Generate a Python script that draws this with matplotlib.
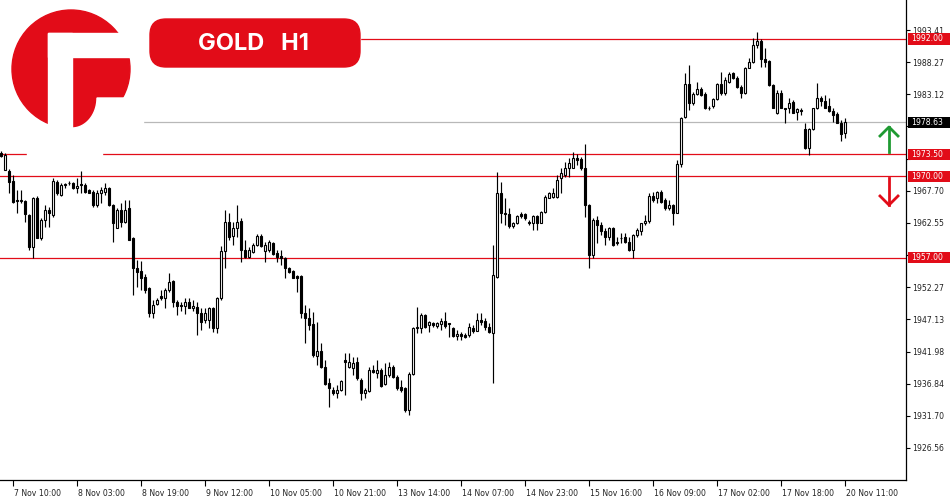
import matplotlib
matplotlib.use("Agg")
import matplotlib.pyplot as plt
import numpy as np
from matplotlib.patches import Rectangle, Circle, FancyBboxPatch, Polygon
from matplotlib.transforms import ScaledTranslation, blended_transform_factory

# hourly GOLD candles, 7 Nov 07:00 .. 20 Nov 11:00
opens = [
    1973.8, 1971.1, 1970.9, 1969.3, 1966.2, 1966.1, 1966.1, 1963.8, 1958.7, 1966.6,
    1960.2, 1963.1, 1964.6, 1963.8, 1969.1, 1967.0, 1968.7, 1968.9, 1968.9, 1968.1,
    1968.8, 1968.6, 1967.8, 1967.5, 1965.4, 1967.3, 1967.5, 1968.1, 1965.4, 1961.8,
    1964.6, 1962.7, 1964.9, 1960.1, 1955.3, 1954.8, 1953.9, 1952.1, 1948.1, 1949.6,
    1950.8, 1950.6, 1951.9, 1953.2, 1949.9, 1949.4, 1949.2, 1949.9, 1949.0, 1949.1,
    1948.2, 1947.1, 1947.1, 1948.9, 1945.8, 1950.6, 1958.1, 1962.7, 1960.4, 1961.7,
    1962.9, 1958.3, 1957.1, 1957.9, 1959.0, 1960.4, 1958.1, 1958.2, 1959.4, 1957.7,
    1957.2, 1956.9, 1955.3, 1954.9, 1954.0, 1954.0, 1948.1, 1947.3, 1946.4, 1941.2,
    1942.0, 1939.5, 1937.0, 1935.9, 1935.4, 1935.8, 1940.7, 1939.5, 1939.4, 1940.3,
    1937.5, 1935.4, 1935.7, 1939.1, 1938.6, 1939.0, 1936.8, 1938.2, 1939.5, 1937.9,
    1936.3, 1936.1, 1932.6, 1938.4, 1945.8, 1945.7, 1947.8, 1946.2, 1946.6, 1946.0,
    1946.4, 1946.8, 1946.5, 1945.7, 1944.4, 1944.8, 1944.6, 1944.6, 1945.8, 1945.3,
    1947.1, 1946.8, 1945.9, 1945.0, 1953.9, 1967.3, 1964.1, 1964.0, 1962.0, 1962.6,
    1964.0, 1964.0, 1962.7, 1962.5, 1963.6, 1962.6, 1964.3, 1966.6, 1966.7, 1966.7,
    1969.7, 1970.2, 1971.3, 1971.4, 1973.0, 1972.7, 1971.3, 1965.4, 1957.4, 1963.1,
    1962.2, 1961.3, 1960.3, 1961.7, 1959.4, 1960.1, 1960.3, 1959.5, 1958.2, 1960.6,
    1961.3, 1962.5, 1962.9, 1966.8, 1966.5, 1967.5, 1966.2, 1964.9, 1965.4, 1964.2,
    1972.0, 1979.5, 1984.8, 1981.7, 1983.2, 1983.9, 1983.2, 1980.9, 1981.2, 1982.3,
    1984.8, 1983.3, 1985.1, 1986.5, 1985.8, 1984.3, 1983.4, 1987.4, 1988.3, 1991.0,
    1991.7, 1988.7, 1988.5, 1984.6, 1980.1, 1983.4, 1980.9, 1981.0, 1981.9, 1980.3,
    1980.6, 1977.5, 1974.5, 1977.5, 1980.9, 1982.6, 1982.1, 1981.2, 1980.5, 1980.0,
    1978.5, 1976.9,
]
highs = [
    1974.0, 1973.8, 1971.2, 1970.2, 1967.8, 1967.8, 1966.2, 1964.0, 1966.7, 1966.8,
    1963.3, 1965.4, 1965.1, 1969.7, 1969.5, 1968.9, 1969.0, 1969.2, 1969.1, 1969.8,
    1970.8, 1968.9, 1968.0, 1967.8, 1967.8, 1968.3, 1968.9, 1968.3, 1965.6, 1964.9,
    1965.7, 1966.2, 1966.3, 1960.3, 1956.6, 1956.5, 1954.4, 1952.3, 1950.2, 1950.5,
    1951.8, 1952.1, 1954.5, 1953.4, 1950.3, 1949.9, 1950.5, 1950.5, 1950.2, 1949.9,
    1948.9, 1948.9, 1949.1, 1949.1, 1950.7, 1958.9, 1964.7, 1964.1, 1962.7, 1965.4,
    1963.3, 1959.9, 1958.7, 1959.3, 1960.8, 1960.8, 1959.5, 1959.8, 1959.5, 1958.2,
    1958.2, 1957.1, 1955.5, 1955.0, 1954.2, 1954.2, 1949.4, 1948.9, 1948.3, 1946.7,
    1943.3, 1940.6, 1937.7, 1936.3, 1936.6, 1937.4, 1941.8, 1941.8, 1941.1, 1941.1,
    1937.7, 1936.1, 1939.5, 1939.8, 1940.6, 1939.3, 1940.1, 1940.3, 1939.8, 1938.2,
    1937.4, 1936.3, 1938.7, 1945.9, 1949.1, 1948.1, 1948.0, 1946.8, 1946.7, 1946.7,
    1947.3, 1948.3, 1946.6, 1945.9, 1945.4, 1945.1, 1944.9, 1946.5, 1946.2, 1948.1,
    1948.1, 1947.3, 1946.5, 1959.0, 1970.7, 1969.1, 1966.6, 1964.9, 1962.7, 1963.8,
    1964.3, 1964.1, 1963.0, 1963.8, 1963.8, 1964.4, 1967.0, 1967.5, 1968.1, 1970.2,
    1971.3, 1972.3, 1972.9, 1973.9, 1973.6, 1973.1, 1975.2, 1965.6, 1963.3, 1963.6,
    1962.7, 1961.7, 1961.9, 1961.9, 1960.3, 1960.9, 1960.9, 1960.3, 1960.8, 1961.7,
    1962.6, 1963.8, 1967.3, 1967.5, 1967.7, 1967.8, 1966.5, 1966.2, 1965.6, 1972.6,
    1979.5, 1986.5, 1987.8, 1983.5, 1985.1, 1984.3, 1983.5, 1981.2, 1982.6, 1984.9,
    1986.7, 1985.9, 1986.7, 1986.7, 1986.0, 1984.6, 1987.5, 1988.9, 1992.1, 1993.1,
    1992.0, 1990.5, 1988.6, 1984.8, 1983.8, 1983.8, 1981.0, 1982.5, 1982.2, 1980.9,
    1980.9, 1978.5, 1977.7, 1981.0, 1985.0, 1982.8, 1983.0, 1982.5, 1980.9, 1980.3,
    1979.0, 1979.3,
]
lows = [
    1973.1, 1971.0, 1967.3, 1965.7, 1964.2, 1965.7, 1962.7, 1958.2, 1956.9, 1960.1,
    1959.8, 1961.9, 1961.9, 1963.5, 1967.0, 1966.8, 1968.2, 1968.6, 1968.0, 1967.3,
    1967.3, 1967.4, 1967.3, 1965.1, 1965.1, 1965.7, 1967.0, 1965.3, 1959.5, 1961.7,
    1961.9, 1962.6, 1959.8, 1951.0, 1952.3, 1951.8, 1951.3, 1947.5, 1947.4, 1949.4,
    1950.2, 1948.9, 1951.5, 1949.1, 1947.8, 1948.5, 1948.0, 1948.9, 1948.5, 1944.6,
    1945.4, 1946.5, 1945.7, 1945.1, 1944.9, 1950.2, 1955.4, 1959.8, 1959.0, 1960.3,
    1956.3, 1956.9, 1957.0, 1957.7, 1958.8, 1958.7, 1956.3, 1957.9, 1957.4, 1956.3,
    1955.8, 1953.7, 1954.5, 1953.7, 1951.5, 1947.3, 1943.3, 1945.4, 1941.1, 1939.8,
    1939.4, 1936.6, 1933.1, 1935.0, 1934.6, 1935.7, 1935.0, 1939.3, 1938.2, 1937.5,
    1934.2, 1934.5, 1935.5, 1938.5, 1937.7, 1936.3, 1936.6, 1937.9, 1937.7, 1935.8,
    1935.5, 1932.3, 1931.8, 1938.2, 1944.9, 1944.9, 1945.7, 1945.1, 1945.9, 1945.7,
    1945.4, 1945.7, 1944.3, 1944.3, 1943.8, 1943.8, 1944.2, 1944.3, 1944.9, 1945.2,
    1946.2, 1945.4, 1944.9, 1936.9, 1953.7, 1962.5, 1962.2, 1961.7, 1961.7, 1962.4,
    1963.4, 1963.0, 1962.2, 1961.4, 1961.4, 1962.5, 1964.2, 1966.5, 1966.6, 1966.6,
    1967.3, 1969.9, 1969.9, 1971.3, 1971.8, 1971.0, 1963.5, 1955.3, 1956.9, 1959.3,
    1960.6, 1959.0, 1959.8, 1958.8, 1959.0, 1959.3, 1959.3, 1958.1, 1956.9, 1960.3,
    1960.6, 1962.2, 1962.6, 1965.9, 1965.7, 1965.7, 1964.6, 1964.6, 1962.2, 1964.1,
    1971.5, 1979.3, 1980.6, 1981.4, 1983.0, 1982.8, 1980.7, 1980.6, 1981.0, 1982.2,
    1983.0, 1983.0, 1984.9, 1985.5, 1984.2, 1982.6, 1983.2, 1987.3, 1988.1, 1990.5,
    1987.5, 1987.5, 1984.4, 1980.9, 1980.0, 1980.9, 1978.5, 1980.1, 1980.1, 1979.0,
    1979.8, 1974.3, 1973.4, 1977.4, 1980.7, 1981.2, 1980.9, 1980.3, 1978.7, 1978.5,
    1975.7, 1976.1,
]
closes = [
    1973.2, 1973.4, 1969.1, 1965.9, 1966.0, 1966.2, 1964.0, 1958.7, 1966.5, 1960.2,
    1963.1, 1964.6, 1964.1, 1969.3, 1967.3, 1968.6, 1968.8, 1969.0, 1968.1, 1968.4,
    1968.7, 1967.5, 1967.4, 1965.4, 1967.3, 1967.8, 1968.1, 1965.4, 1962.5, 1964.6,
    1962.7, 1964.6, 1959.9, 1955.3, 1954.7, 1953.8, 1951.8, 1948.2, 1949.4, 1950.2,
    1950.6, 1951.9, 1953.1, 1949.9, 1949.2, 1949.3, 1949.9, 1949.0, 1949.3, 1948.2,
    1946.7, 1948.1, 1948.9, 1945.8, 1950.5, 1958.1, 1962.7, 1960.3, 1961.7, 1962.7,
    1958.2, 1957.1, 1958.3, 1959.0, 1960.4, 1958.8, 1959.0, 1959.5, 1957.6, 1957.1,
    1956.9, 1955.3, 1954.7, 1953.8, 1953.8, 1948.2, 1947.3, 1946.2, 1941.4, 1942.0,
    1939.5, 1936.8, 1936.1, 1935.3, 1935.8, 1937.2, 1940.3, 1940.3, 1940.2, 1937.7,
    1935.3, 1935.8, 1939.1, 1938.7, 1939.0, 1936.4, 1938.2, 1939.5, 1937.9, 1936.2,
    1935.9, 1932.6, 1938.4, 1945.7, 1945.9, 1947.8, 1945.9, 1946.7, 1946.2, 1946.5,
    1946.8, 1946.0, 1946.4, 1944.4, 1944.8, 1944.4, 1944.3, 1945.9, 1945.3, 1947.1,
    1946.7, 1945.9, 1945.1, 1954.2, 1967.3, 1964.1, 1964.0, 1962.0, 1962.6, 1963.6,
    1963.6, 1963.3, 1962.5, 1963.6, 1962.6, 1964.3, 1966.7, 1967.4, 1967.4, 1969.5,
    1970.5, 1971.3, 1972.1, 1973.0, 1972.6, 1971.3, 1965.4, 1957.4, 1963.1, 1962.2,
    1961.3, 1960.3, 1961.7, 1959.0, 1959.5, 1960.2, 1959.5, 1958.2, 1960.6, 1961.4,
    1962.5, 1962.9, 1966.8, 1966.3, 1967.5, 1965.9, 1964.9, 1965.4, 1964.2, 1972.0,
    1979.4, 1984.8, 1981.8, 1983.2, 1983.9, 1983.0, 1980.9, 1981.0, 1982.3, 1984.8,
    1983.4, 1985.4, 1986.4, 1985.8, 1984.3, 1983.4, 1987.3, 1988.3, 1991.0, 1991.7,
    1988.7, 1988.3, 1984.6, 1981.0, 1983.4, 1981.0, 1980.8, 1981.8, 1980.2, 1980.7,
    1980.5, 1974.5, 1977.5, 1980.9, 1982.6, 1982.1, 1981.0, 1980.5, 1979.8, 1978.6,
    1976.8, 1978.63,
]

time_labels = ["7 Nov 10:00", "8 Nov 03:00", "8 Nov 19:00", "9 Nov 12:00",
               "10 Nov 05:00", "10 Nov 21:00", "13 Nov 14:00", "14 Nov 07:00",
               "14 Nov 23:00", "15 Nov 16:00", "16 Nov 09:00", "17 Nov 02:00",
               "17 Nov 18:00", "20 Nov 11:00"]
label_bars = [3, 19, 35, 51, 67, 83, 99, 115, 131, 147, 163, 179, 195, 211]

price_ticks = [1926.56, 1931.70, 1936.84, 1941.98, 1947.13, 1952.27, 1957.41,
               1962.55, 1967.70, 1972.84, 1977.98, 1983.12, 1988.27, 1993.41]
hidden_ticks = [1972.84, 1977.98]   # covered by the price boxes on the chart
top_tick = 1998.55
levels = [1992.00, 1973.50, 1970.00, 1957.00]
last_price = 1978.63

RED = "#e20c18"
GREEN = "#1f9a32"
plt.rcParams["font.family"] = "DejaVu Sans"

fig = plt.figure(figsize=(9.5, 5), dpi=100)
ax = fig.add_axes([0, 20 / 500, 906 / 950, 480 / 500])

o = np.array(opens)
h = np.array(highs)
l = np.array(lows)
c = np.array(closes)
x = np.arange(len(o))
up = c >= o
body = c - o
body = np.where(np.abs(body) < 0.08, np.where(up, 0.08, -0.08), body)

ax.vlines(x, l, h, color="black", lw=0.85, zorder=3)
ax.bar(x, body, bottom=o, width=0.6, color=np.where(up, "white", "black"),
       edgecolor="black", linewidth=0.8, zorder=4)

for lv in levels:
    ax.axhline(lv, color=RED, lw=0.9, zorder=2)
ax.axhline(last_price, color="#b8b8b8", lw=0.9, zorder=2)

ax.set_xlim(-0.25, 226.25)
ax.set_ylim(1921.44, 1998.21)

for side in ["left", "top"]:
    ax.spines[side].set_visible(False)
for side in ["bottom", "right"]:
    ax.spines[side].set_linewidth(0.9)

ax.yaxis.tick_right()
ax.set_yticks(price_ticks)
ax.set_yticklabels(["" if p in hidden_ticks else f"{p:.2f}" for p in price_ticks])
ax.tick_params(axis="y", length=3, width=0.8, pad=1.5, labelsize=5.6, labelcolor="#222222")

ax.set_xticks(label_bars)
ax.set_xticklabels(time_labels, ha="left")
ax.tick_params(axis="x", length=4, width=0.8, pad=2.5, labelsize=5.6, labelcolor="#222222")
for lab in ax.get_xticklabels():
    lab.set_transform(lab.get_transform() + ScaledTranslation(1.5 / 100, 0, fig.dpi_scale_trans))

ytrans = blended_transform_factory(ax.transAxes, ax.transData)
ax.text(1.0066, top_tick, f"{top_tick:.2f}", transform=ytrans, va="center",
        fontsize=5.6, color="#222222", clip_on=False)

box_h = 11.5 / 6.2528
for lv, col in [(lv, RED) for lv in levels] + [(last_price, "black")]:
    ax.add_patch(Rectangle((908 / 906, lv - box_h / 2), 44 / 906, box_h, transform=ytrans,
                           facecolor=col, edgecolor="none", clip_on=False, zorder=6))
    ax.text(911 / 906, lv, f"{lv:.2f}", transform=ytrans, va="center", ha="left",
            fontsize=5.6, color="white", clip_on=False, zorder=7)

# overlay in pixel coordinates for logo, title badge and arrows
ov = fig.add_axes([0, 0, 1, 1])
ov.set_xlim(0, 950)
ov.set_ylim(500, 0)
ov.axis("off")
ov.patch.set_alpha(0)

ov.add_patch(Rectangle((0, 0), 360, 70, color="white"))
ov.add_patch(Rectangle((0, 0), 143, 148, color="white"))
ov.add_patch(Rectangle((27, 147), 75, 11, color="white"))

ov.add_patch(Circle((71, 69), 59, color=RED))
ov.add_patch(Rectangle((48, 33), 24, 105, color="white"))
ov.add_patch(Rectangle((48, 33), 95, 24, color="white"))
t = np.linspace(np.pi / 2, 0, 30)
cut = [(140, 98), (140, 140), (72, 140)] + list(zip(72 + 25 * np.cos(t), 98 + 30 * np.sin(t)))
ov.add_patch(Polygon(cut, closed=True, color="white"))

ov.add_patch(FancyBboxPatch((150, 19), 210, 48, boxstyle="round,pad=0,rounding_size=16",
                            color=RED))
ov.text(253, 44, "GOLD   H1", color="white", fontsize=17, fontweight="bold",
        family="Inter", ha="center", va="center")

ov.plot([889, 889], [152, 127], color=GREEN, lw=2)
ov.plot([880, 889, 898], [136, 127, 136], color=GREEN, lw=2)
ov.plot([889, 889], [178, 205], color=RED, lw=2)
ov.plot([880, 889, 898], [196, 205, 196], color=RED, lw=2)

fig.savefig("out.png", dpi=100)
